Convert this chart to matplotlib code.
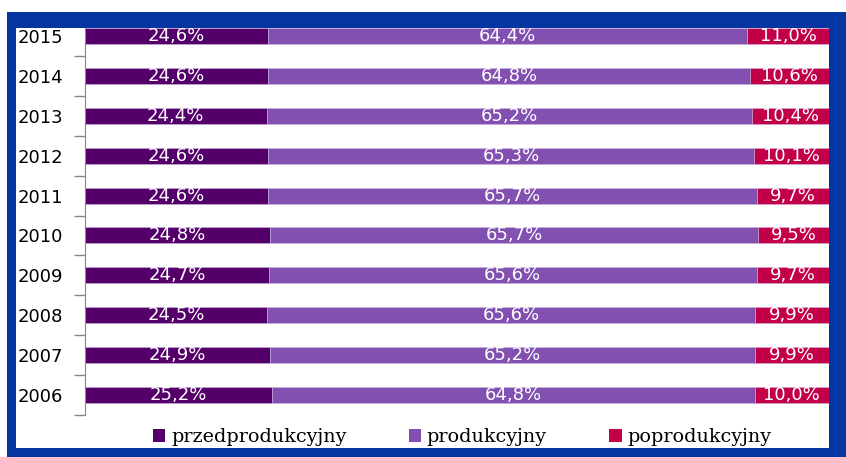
import numpy as np
import matplotlib; matplotlib.use("Agg")
import matplotlib.pyplot as plt
from matplotlib.patches import Rectangle, Patch

years = ["2006", "2007", "2008", "2009", "2010", "2011", "2012", "2013", "2014", "2015"]
przed = [25.2, 24.9, 24.5, 24.7, 24.8, 24.6, 24.6, 24.4, 24.6, 24.6]
prod = [64.8, 65.2, 65.6, 65.6, 65.7, 65.7, 65.3, 65.2, 64.8, 64.4]
post = [10.0, 9.9, 9.9, 9.7, 9.5, 9.7, 10.1, 10.4, 10.6, 11.0]
series = ["przedprodukcyjny", "produkcyjny", "poprodukcyjny"]
colors = ["#55006a", "#8250b0", "#c2004a"]

W, H = 846, 457
fig = plt.figure(figsize=(W / 100, H / 100), dpi=100)
# axes: x 85..829 px, y (top) 16..415 px
ax = fig.add_axes([85 / W, (H - 415) / H, (829 - 85) / W, (415 - 16) / H])

y = np.arange(len(years))
left = np.zeros(len(years))
for vals, c, name in zip([przed, prod, post], colors, series):
    vals = np.array(vals)
    ax.barh(y, vals, left=left, height=0.4, color=c, edgecolor="#c9b3e0", linewidth=0.4, label=name)
    for yi, l, v in zip(y, left, vals):
        ax.text(l + v / 2, yi, f"{v:.1f}%".replace(".", ","), ha="center", va="center",
                color="white", fontsize=13, family="DejaVu Sans")
    left += vals

ax.set_xlim(0, 100)
ax.set_ylim(-0.5, len(years) - 0.5)
ax.set_xticks([])
ax.set_yticks(y)
ax.set_yticklabels(years, fontsize=13, family="DejaVu Sans")
ax.tick_params(axis="y", which="major", length=0, pad=16)
ax.set_yticks(np.arange(-0.5, len(years)), minor=True)
ax.tick_params(axis="y", which="minor", length=8, color="#888888", width=1)
for s in ["top", "right", "bottom"]:
    ax.spines[s].set_visible(False)
ax.spines["left"].set_color("#888888")

handles = [Patch(facecolor=c, label=n) for c, n in zip(colors, series)]
fig.legend(handles=handles, loc="center", bbox_to_anchor=(462 / W, (H - 437) / H), ncol=3,
           frameon=False, prop={"family": "DejaVu Serif", "size": 13.8}, handlelength=0.65,
           handleheight=0.65, handletextpad=0.3, columnspacing=3.25)

# blue frame
blue = "#0336a0"
for (x0, y0, x1, y1) in [(7, 12, 846, 28), (7, 12, 16, 457), (829, 12, 846, 457), (7, 448, 846, 457)]:
    fig.add_artist(Rectangle((x0 / W, 1 - y1 / H), (x1 - x0) / W, (y1 - y0) / H,
                             transform=fig.transFigure, color=blue, zorder=10, linewidth=0))

fig.savefig("out.png", dpi=100)
